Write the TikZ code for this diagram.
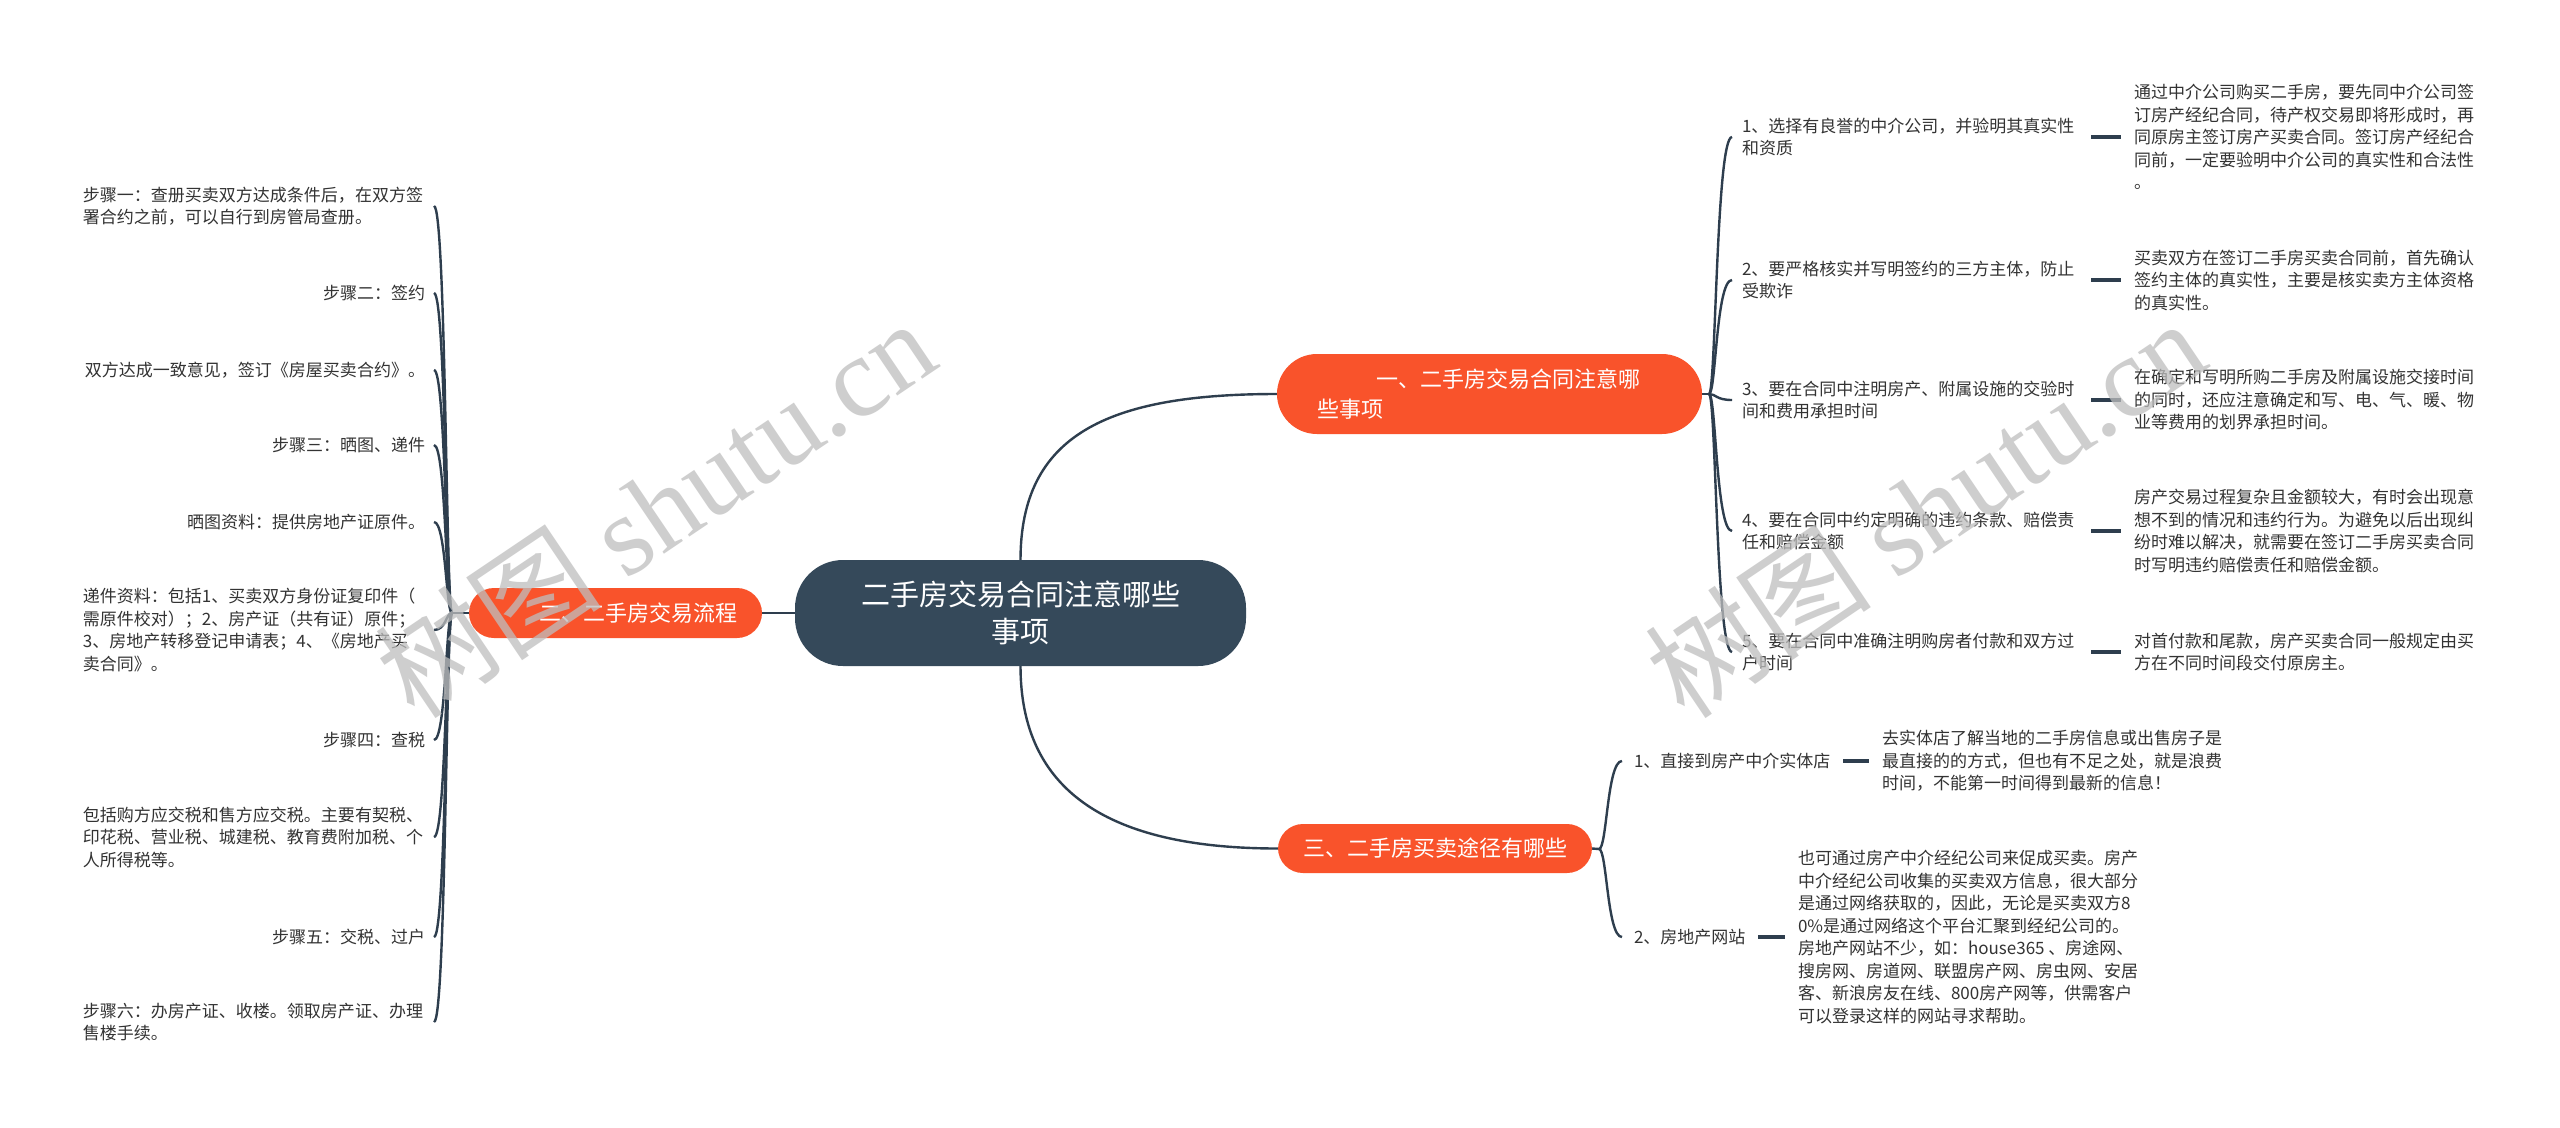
\documentclass[tikz,border=0pt]{standalone}
\usepackage{fontspec}
\setmainfont{Noto Sans CJK SC}
\newfontfamily\wmserif{Liberation Serif}
\usetikzlibrary{backgrounds}
\definecolor{darkslate}{HTML}{35495A}
\definecolor{orangered}{HTML}{F9532B}
\definecolor{linecol}{HTML}{2E3E4E}
\definecolor{txt}{HTML}{333333}
\definecolor{wmgray}{HTML}{BEBEBE}
\begin{document}
\begin{tikzpicture}[x=1bp,y=-1bp,
  every node/.style={inner sep=0pt, outer sep=0pt},
  conn/.style={draw=linecol, line width=2.4bp},
  dashc/.style={draw=linecol, line width=3.2bp},
  topic/.style={text=txt, align=left, font=\fontsize{17bp}{22.5bp}\selectfont},
  ltopic/.style={topic, anchor=east},
  ltopicw/.style={topic, anchor=east, text width=342bp},
  rtopic/.style={topic, anchor=west},
  mainbox/.style={fill=orangered, text=white, font=\fontsize{22bp}{30bp}\selectfont},
  wm/.style={text=wmgray, text opacity=0.75, rotate=34, font=\fontsize{114bp}{114bp}\selectfont},
]
\useasboundingbox (0,0) rectangle (2560,1127);

% root
\node[fill=darkslate, rounded corners=48bp, minimum width=451bp, minimum height=106bp,
      text=white, align=center, font=\fontsize{29bp}{37bp}\selectfont] (root) at (1020.5,613)
      {二手房交易合同注意哪些\\事项};

% main branches
\node[mainbox, rounded corners=25bp, minimum width=293bp, minimum height=50bp, align=center]
  (b2) at (615.5,613) {\hspace*{46bp}二、二手房交易流程};
\node[mainbox, rounded corners=40bp, minimum width=425bp, minimum height=80bp,
      inner xsep=40bp, text width=345bp, align=left]
  (b1) at (1489.5,394) {\hspace*{59bp}一、二手房交易合同注意哪\\些事项};
\node[mainbox, rounded corners=25bp, minimum width=314bp, minimum height=49bp, align=center]
  (b3) at (1435,848.5) {三、二手房买卖途径有哪些};

% left children
\node[ltopicw] (s1) at (425,206) {步骤一：查册买卖双方达成条件后，在双方签\\署合约之前，可以自行到房管局查册。};
\node[ltopic] (s2) at (425,293) {步骤二：签约};
\node[ltopic] (s3) at (425,370) {双方达成一致意见，签订《房屋买卖合约》。};
\node[ltopic] (s4) at (425,445) {步骤三：晒图、递件};
\node[ltopic] (s5) at (425,522) {晒图资料：提供房地产证原件。};
\node[ltopicw] (s6) at (425,630) {递件资料：包括1、买卖双方身份证复印件（\\需原件校对）；2、房产证（共有证）原件；\\3、房地产转移登记申请表；4、《房地产买\\卖合同》。};
\node[ltopic] (s7) at (425,740) {步骤四：查税};
\node[ltopicw] (s8) at (425,837) {包括购方应交税和售方应交税。主要有契税、\\印花税、营业税、城建税、教育费附加税、个\\人所得税等。};
\node[ltopic] (s9) at (425,937) {步骤五：交税、过户};
\node[ltopicw] (s10) at (425,1022) {步骤六：办房产证、收楼。领取房产证、办理\\售楼手续。};

% branch 1 children
\node[rtopic, text width=336bp] (c1) at (1742,137) {1、选择有良誉的中介公司，并验明其真实性\\和资质};
\node[rtopic, text width=336bp] (c2) at (1742,280) {2、要严格核实并写明签约的三方主体，防止\\受欺诈};
\node[rtopic, text width=336bp] (c3) at (1742,400) {3、要在合同中注明房产、附属设施的交验时\\间和费用承担时间};
\node[rtopic, text width=336bp] (c4) at (1742,531) {4、要在合同中约定明确的违约条款、赔偿责\\任和赔偿金额};
\node[rtopic, text width=336bp] (c5) at (1742,652) {5、要在合同中准确注明购房者付款和双方过\\户时间};

\node[rtopic] (l1) at (2134,137) {通过中介公司购买二手房，要先同中介公司签\\订房产经纪合同，待产权交易即将形成时，再\\同原房主签订房产买卖合同。签订房产经纪合\\同前，一定要验明中介公司的真实性和合法性\\。};
\node[rtopic] (l2) at (2134,280) {买卖双方在签订二手房买卖合同前，首先确认\\签约主体的真实性，主要是核实卖方主体资格\\的真实性。};
\node[rtopic] (l3) at (2134,400) {在确定和写明所购二手房及附属设施交接时间\\的同时，还应注意确定和写、电、气、暖、物\\业等费用的划界承担时间。};
\node[rtopic] (l4) at (2134,531) {房产交易过程复杂且金额较大，有时会出现意\\想不到的情况和违约行为。为避免以后出现纠\\纷时难以解决，就需要在签订二手房买卖合同\\时写明违约赔偿责任和赔偿金额。};
\node[rtopic] (l5) at (2134,652) {对首付款和尾款，房产买卖合同一般规定由买\\方在不同时间段交付原房主。};

% branch 3 children
\node[rtopic] (d1) at (1634,761) {1、直接到房产中介实体店};
\node[rtopic] (d2) at (1634,937) {2、房地产网站};
\node[rtopic] (m1) at (1882,761) {去实体店了解当地的二手房信息或出售房子是\\最直接的的方式，但也有不足之处，就是浪费\\时间，不能第一时间得到最新的信息！};
\node[rtopic] (m2) at (1798,937) {也可通过房产中介经纪公司来促成买卖。房产\\中介经纪公司收集的买卖双方信息，很大部分\\是通过网络获取的，因此，无论是买卖双方8\\0\%是通过网络这个平台汇聚到经纪公司的。\\房地产网站不少，如：house365 、房途网、\\搜房网、房道网、联盟房产网、房虫网、安居\\客、新浪房友在线、800房产网等，供需客户\\可以登录这样的网站寻求帮助。};

% junction points of the brace connectors
\coordinate (p2) at (452,613);
\coordinate (j2) at (446,613);
\coordinate (p1) at (1709,394);
\coordinate (j1) at (1716,394);
\coordinate (p3) at (1599,849);
\coordinate (j3) at (1607,849);

\begin{scope}[on background layer]
  \fill[white] (0,0) rectangle (2560,1127);
  \draw[conn] (root.west) -- (b2.east);
  \draw[conn] (root.north) .. controls +(0,-125) and +(-170,0) .. (b1.west);
  \draw[conn] (root.south) .. controls +(0,125) and +(-170,0) .. (b3.west);
  \draw[conn] (b2.west) -- (p2);
  \draw[conn] (b1.east) -- (p1);
  \draw[conn] (b3.east) -- (p3);
  \foreach \n in {s1,s2,s3,s4,s5,s6,s7,s8,s9,s10}
    \draw[conn] (p2) .. controls (j2) and (j2 |- \n.east) .. ([xshift=9bp]\n.east);
  \foreach \n in {c1,c2,c3,c4,c5}
    \draw[conn] (p1) .. controls (j1) and (j1 |- \n.west) .. ([xshift=-10bp]\n.west);
  \foreach \n in {d1,d2}
    \draw[conn] (p3) .. controls (j3) and (j3 |- \n.west) .. ([xshift=-12bp]\n.west);
\end{scope}

\foreach \a/\b in {c1/l1,c2/l2,c3/l3,c4/l4,c5/l5,d1/m1,d2/m2}
  \draw[dashc] ([xshift=13bp]\a.east) -- ([xshift=-13bp]\b.west);

% watermark
\node[wm] (wm1) at (655,508) {树图 {\wmserif shutu.cn}};
\node[wm] (wm2) at (1925,508) {树图 {\wmserif shutu.cn}};
\end{tikzpicture}
\end{document}
